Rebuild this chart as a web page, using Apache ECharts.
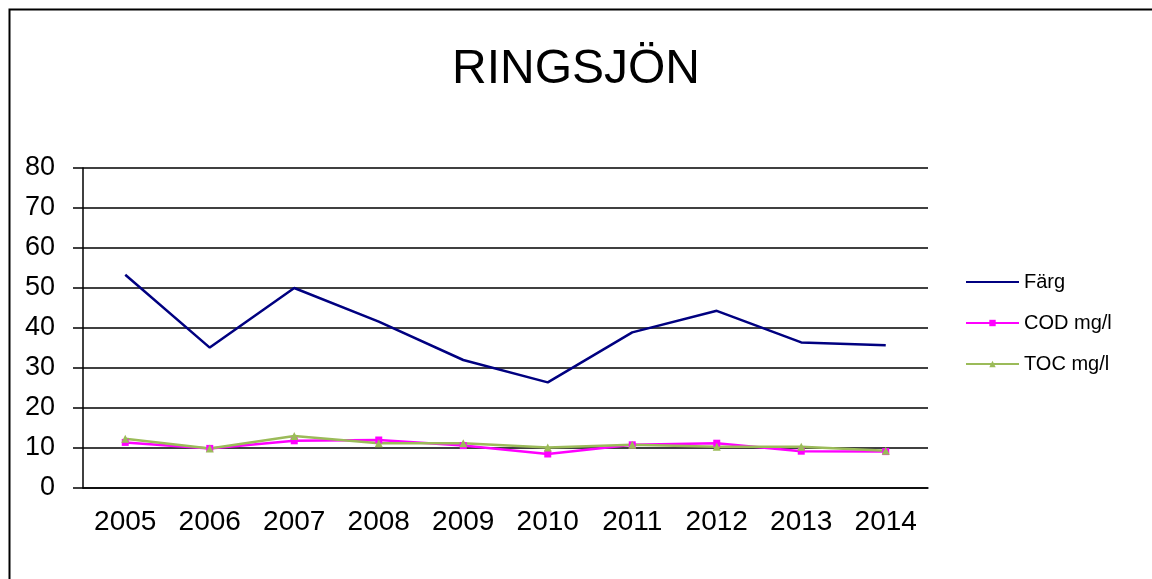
<!DOCTYPE html>
<html>
<head>
<meta charset="utf-8">
<script src="https://cdn.jsdelivr.net/npm/echarts@6/dist/echarts.min.js"></script>
<style>
html,body{margin:0;padding:0;background:#fff;}
#chart{width:1152px;height:579px;}
</style>
</head>
<body>
<div id="chart"></div>
<script>
const years = ['2005','2006','2007','2008','2009','2010','2011','2012','2013','2014'];
const farg = [53.3, 35.1, 50.0, 41.6, 32.0, 26.4, 38.9, 44.3, 36.4, 35.7];
const cod = [11.4, 9.9, 11.8, 12.0, 10.6, 8.5, 10.8, 11.2, 9.2, 9.1];
const toc = [12.3, 9.9, 13.0, 11.2, 11.2, 10.1, 10.8, 10.3, 10.3, 9.3];
const seriesNames = ['Färg', 'COD mg/l', 'TOC mg/l'];
const yTicks = {min: 0, max: 80, interval: 10};

const chart = echarts.init(document.getElementById('chart'), null, {renderer: 'canvas'});
const font = 'Liberation Sans, Arial, sans-serif';
chart.setOption({
  animation: false,
  backgroundColor: '#fff',
  graphic: [{
    type: 'rect', left: 7, top: 7, z: 100,
    shape: {width: 1200, height: 700},
    style: {fill: 'none', stroke: '#000', lineWidth: 2}
  }],
  title: {
    text: 'RINGSJÖN', left: 'center', top: 41,
    textStyle: {fontFamily: font, fontSize: 48, fontWeight: 'normal', color: '#000'}
  },
  legend: {
    orient: 'vertical', left: 965, top: 272, itemGap: 21, padding: 0,
    itemWidth: 53, itemHeight: 8,
    textStyle: {fontFamily: font, fontSize: 20, color: '#000'},
    data: [
      {name: seriesNames[0], itemStyle: {color: 'rgba(0,0,0,0)', borderWidth: 0, opacity: 0}},
      seriesNames[1],
      seriesNames[2]
    ]
  },
  grid: {left: 83, right: 224, top: 168, bottom: 91, containLabel: false},
  xAxis: {
    type: 'category', data: years, boundaryGap: true,
    axisLine: {lineStyle: {color: '#000', width: 1.5}},
    axisTick: {length: 9, lineStyle: {color: '#000', width: 1.5}},
    axisLabel: {fontFamily: font, fontSize: 28, color: '#000', margin: 20, interval: 0}
  },
  yAxis: {
    type: 'value', min: yTicks.min, max: yTicks.max, interval: yTicks.interval,
    axisLine: {show: true, lineStyle: {color: '#000', width: 1.5}},
    axisTick: {show: true, length: 10, lineStyle: {color: '#000', width: 1.5}},
    axisLabel: {fontFamily: font, fontSize: 27, color: '#000', margin: 28},
    splitLine: {show: true, lineStyle: {color: '#000', width: 1.5}}
  },
  series: [
    {name: seriesNames[0], type: 'line', data: farg, symbol: 'none',
     lineStyle: {color: '#000080', width: 2.5}, itemStyle: {color: '#000080'}},
    {name: seriesNames[1], type: 'line', data: cod, symbol: 'rect', symbolSize: 7,
     lineStyle: {color: '#FF00FF', width: 2.5}, itemStyle: {color: '#FF00FF'}},
    {name: seriesNames[2], type: 'line', data: toc, symbol: 'triangle', symbolSize: 8,
     lineStyle: {color: '#9BBB59', width: 2.5}, itemStyle: {color: '#9BBB59'}}
  ]
});
</script>
</body>
</html>
